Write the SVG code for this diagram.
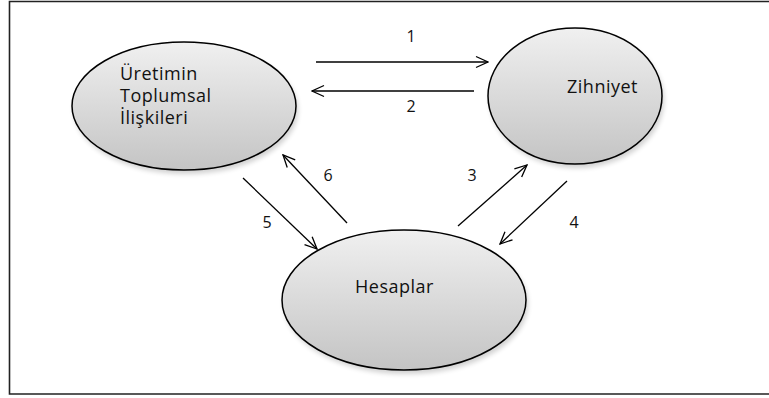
<svg xmlns="http://www.w3.org/2000/svg" width="769" height="398" viewBox="0 0 769 398">
  <defs>
    <linearGradient id="bubble" x1="0" y1="0" x2="0" y2="1">
      <stop offset="0" stop-color="#f0f0f0"/>
      <stop offset="1" stop-color="#c4c4c4"/>
    </linearGradient>
    <filter id="soft" x="-20%" y="-20%" width="140%" height="150%">
      <feGaussianBlur stdDeviation="2.5"/>
    </filter>
    <marker id="open" viewBox="0 0 14 14" refX="13" refY="7" markerWidth="14" markerHeight="14" markerUnits="userSpaceOnUse" orient="auto">
      <path d="M1,1.5 L13,7 L1,12.5" fill="none" stroke="#000" stroke-width="1.3"/>
    </marker>
  </defs>
  <style>
    .node { fill: url(#bubble); stroke: #000; stroke-width: 1.5; }
    .shadow { fill: #000; opacity: 0.18; filter: url(#soft); }
    .label { font-family: "Open Sans", "Liberation Sans", sans-serif; font-size: 18px; fill: #111; letter-spacing: 0.5px; }
    .num { font-family: "Open Sans", "Liberation Sans", sans-serif; font-size: 16px; fill: #111; text-anchor: middle; }
    .link { stroke: #000; stroke-width: 1.3; fill: none; marker-end: url(#open); }
  </style>

  <rect width="769" height="398" fill="#fff"/>
  <!-- page frame -->
  <path d="M769,1.5 H9.5 V394 H769" fill="none" stroke="#222" stroke-width="1.6"/>

  <g id="uretimin">
    <ellipse class="shadow" cx="186" cy="110" rx="112" ry="64"/>
    <ellipse class="node" cx="184" cy="106" rx="112" ry="64"/>
    <text class="label" x="120" y="80">Üretimin</text>
    <text class="label" x="120" y="102">Toplumsal</text>
    <text class="label" x="120" y="124">İlişkileri</text>
  </g>

  <g id="zihniyet">
    <ellipse class="shadow" cx="577" cy="100" rx="87" ry="68"/>
    <ellipse class="node" cx="575" cy="96" rx="87" ry="68"/>
    <text class="label" x="567" y="93">Zihniyet</text>
  </g>

  <g id="hesaplar">
    <ellipse class="shadow" cx="406" cy="304" rx="122" ry="70"/>
    <ellipse class="node" cx="404" cy="300" rx="122" ry="70"/>
    <text class="label" x="355" y="293">Hesaplar</text>
  </g>

  <g id="connectors">
    <line class="link" x1="316" y1="62" x2="488" y2="62"/>
    <line class="link" x1="474" y1="91" x2="312" y2="91"/>
    <line class="link" x1="458" y1="226" x2="527" y2="165"/>
    <line class="link" x1="567" y1="181" x2="500" y2="244"/>
    <line class="link" x1="243" y1="178" x2="317" y2="249"/>
    <line class="link" x1="347" y1="223" x2="283" y2="155"/>
    <text class="num" x="411" y="42">1</text>
    <text class="num" x="411" y="112">2</text>
    <text class="num" x="472" y="181">3</text>
    <text class="num" x="574" y="228">4</text>
    <text class="num" x="267" y="228">5</text>
    <text class="num" x="328" y="181">6</text>
  </g>
</svg>
